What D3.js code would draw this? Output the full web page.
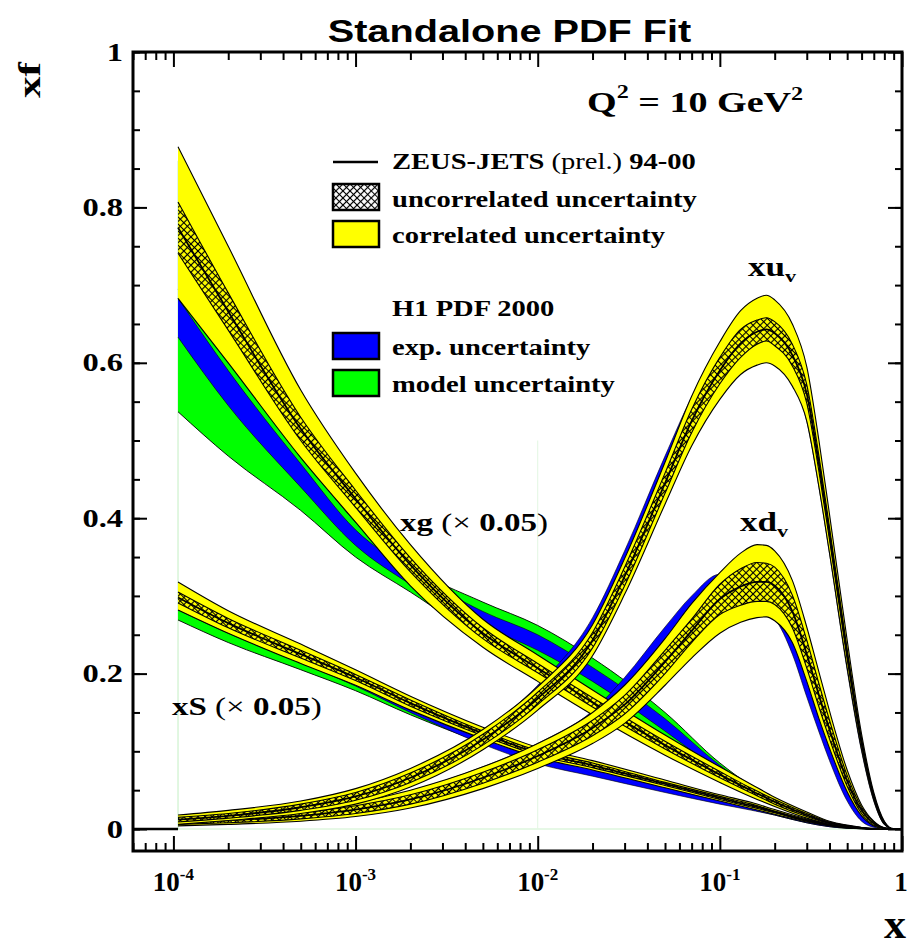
<!DOCTYPE html>
<html><head><meta charset="utf-8">
<script src="https://cdn.jsdelivr.net/npm/d3@7"></script>
<style>body{margin:0;background:#fff}svg{display:block}</style>
</head><body><svg id="c" width="909" height="949"></svg>
<script>
// ---------------- DATA ----------------
const xGrid = [1.06e-4, 2e-4, 5e-4, 1e-3, 2e-3, 5e-3, 0.01, 0.02, 0.05, 0.1, 0.15, 0.2, 0.3, 0.4, 0.5, 0.6, 0.7, 0.8, 1.0];
// xg (x0.05) ZEUS-JETS
const gCorrLo = [0.683, 0.60, 0.478, 0.395, 0.313, 0.234, 0.19, 0.147, 0.095, 0.06, 0.041, 0.029, 0.014, 0.006, 0.003, 0.001, 0, 0, 0];
const gCorrHi = [0.878, 0.75, 0.565, 0.458, 0.366, 0.27, 0.224, 0.179, 0.121, 0.08, 0.057, 0.041, 0.022, 0.01, 0.005, 0.002, 0.0005, 0, 0];
const gUncLo  = [0.741, 0.642, 0.50, 0.414, 0.331, 0.245, 0.201, 0.157, 0.103, 0.066, 0.046, 0.032, 0.016, 0.007, 0.0035, 0.001, 0.0002, 0, 0];
const gUncHi  = [0.807, 0.69, 0.53, 0.436, 0.349, 0.259, 0.213, 0.169, 0.113, 0.074, 0.052, 0.038, 0.02, 0.009, 0.0045, 0.002, 0.0004, 0, 0];
const gCentral= [0.774, 0.666, 0.515, 0.425, 0.34, 0.252, 0.207, 0.163, 0.108, 0.07, 0.049, 0.035, 0.018, 0.008, 0.004, 0.0015, 0.0003, 0, 0];
// xg (x0.05) H1 PDF 2000
const gModLo = [0.537, 0.48, 0.41, 0.35, 0.305, 0.245, 0.215, 0.175, 0.118, 0.072, 0.048, 0.034, 0.016, 0.007, 0.003, 0.001, 0, 0, 0];
const gModHi = [0.695, 0.61, 0.485, 0.395, 0.338, 0.292, 0.262, 0.22, 0.15, 0.085, 0.055, 0.038, 0.019, 0.009, 0.004, 0.001, 0, 0, 0];
const gExpLo = [0.633, 0.545, 0.44, 0.365, 0.315, 0.262, 0.23, 0.19, 0.126, 0.075, 0.05, 0.035, 0.017, 0.008, 0.0035, 0.001, 0, 0, 0];
const gExpHi = [0.683, 0.59, 0.47, 0.385, 0.333, 0.28, 0.25, 0.208, 0.142, 0.082, 0.053, 0.037, 0.018, 0.0085, 0.0038, 0.001, 0, 0, 0];
// xS (x0.05) ZEUS-JETS
const sCorrLo = [0.282, 0.252, 0.213, 0.185, 0.153, 0.116, 0.092, 0.076, 0.053, 0.036, 0.026, 0.019, 0.009, 0.004, 0.0015, 0.0005, 0.0001, 0, 0];
const sCorrHi = [0.318, 0.281, 0.238, 0.205, 0.171, 0.131, 0.105, 0.088, 0.063, 0.044, 0.034, 0.025, 0.013, 0.006, 0.0025, 0.001, 0.0003, 0, 0];
const sUncLo  = [0.291, 0.259, 0.22, 0.191, 0.158, 0.12, 0.095, 0.079, 0.056, 0.038, 0.028, 0.021, 0.01, 0.0045, 0.0018, 0.0007, 0.0002, 0, 0];
const sUncHi  = [0.305, 0.271, 0.23, 0.199, 0.166, 0.126, 0.101, 0.085, 0.06, 0.042, 0.032, 0.023, 0.012, 0.0055, 0.0022, 0.0009, 0.0002, 0, 0];
const sCentral= [0.298, 0.265, 0.225, 0.195, 0.162, 0.123, 0.098, 0.082, 0.058, 0.04, 0.03, 0.022, 0.011, 0.005, 0.002, 0.0008, 0.0002, 0, 0];
// xS (x0.05) H1 PDF 2000
const sModLo = [0.269, 0.24, 0.205, 0.178, 0.147, 0.111, 0.088, 0.071, 0.05, 0.034, 0.025, 0.018, 0.008, 0.003, 0.001, 0.0005, 0.0001, 0, 0];
const sModHi = [0.30, 0.27, 0.23, 0.197, 0.163, 0.124, 0.099, 0.081, 0.058, 0.04, 0.031, 0.023, 0.012, 0.005, 0.002, 0.0008, 0.0002, 0, 0];
const sExpLo = [0.282, 0.252, 0.214, 0.184, 0.15, 0.109, 0.084, 0.068, 0.047, 0.032, 0.024, 0.018, 0.008, 0.003, 0.001, 0.0005, 0.0001, 0, 0];
const sExpHi = [0.297, 0.266, 0.227, 0.195, 0.162, 0.122, 0.097, 0.079, 0.056, 0.039, 0.03, 0.023, 0.012, 0.005, 0.002, 0.0008, 0.0002, 0, 0];

const xVal = [1.06e-4, 2e-4, 5e-4, 1e-3, 2e-3, 5e-3, 0.01, 0.02, 0.03, 0.05, 0.07, 0.1, 0.13, 0.16, 0.18, 0.2, 0.25, 0.3, 0.35, 0.4, 0.5, 0.6, 0.7, 0.8, 0.9, 1.0];
// xu_v ZEUS-JETS
const uCorrLo = [0.006, 0.011, 0.02, 0.032, 0.054, 0.102, 0.153, 0.223, 0.302, 0.418, 0.493, 0.553, 0.585, 0.597, 0.60, 0.596, 0.57, 0.525, 0.44, 0.355, 0.207, 0.102, 0.037, 0.006, 0, 0];
const uCorrHi = [0.018, 0.024, 0.036, 0.052, 0.078, 0.128, 0.183, 0.263, 0.348, 0.472, 0.557, 0.627, 0.667, 0.683, 0.687, 0.681, 0.65, 0.595, 0.50, 0.405, 0.243, 0.122, 0.047, 0.01, 0, 0];
const uUncLo  = [0.009, 0.014, 0.024, 0.037, 0.06, 0.108, 0.16, 0.233, 0.313, 0.432, 0.51, 0.573, 0.607, 0.624, 0.628, 0.622, 0.596, 0.548, 0.46, 0.372, 0.219, 0.108, 0.04, 0.007, 0, 0];
const uUncHi  = [0.015, 0.02, 0.032, 0.047, 0.072, 0.122, 0.176, 0.253, 0.337, 0.458, 0.54, 0.607, 0.643, 0.655, 0.658, 0.653, 0.624, 0.572, 0.48, 0.388, 0.231, 0.116, 0.044, 0.009, 0, 0];
const uCentral= [0.012, 0.017, 0.028, 0.042, 0.066, 0.115, 0.168, 0.243, 0.325, 0.445, 0.525, 0.59, 0.625, 0.64, 0.643, 0.638, 0.61, 0.56, 0.47, 0.38, 0.225, 0.112, 0.042, 0.008, 0, 0];
// xu_v H1 PDF 2000
const uExpLo = [0.008, 0.013, 0.022, 0.035, 0.058, 0.108, 0.16, 0.238, 0.322, 0.445, 0.522, 0.58, 0.61, 0.62, 0.62, 0.615, 0.58, 0.525, 0.44, 0.355, 0.205, 0.1, 0.036, 0.006, 0, 0];
const uExpHi = [0.016, 0.021, 0.033, 0.049, 0.074, 0.126, 0.185, 0.272, 0.358, 0.48, 0.555, 0.612, 0.64, 0.65, 0.65, 0.645, 0.61, 0.555, 0.47, 0.38, 0.225, 0.112, 0.042, 0.008, 0, 0];
// xd_v ZEUS-JETS
const dCorrLo = [0.004, 0.006, 0.01, 0.016, 0.027, 0.052, 0.078, 0.11, 0.136, 0.185, 0.22, 0.252, 0.266, 0.272, 0.273, 0.268, 0.24, 0.19, 0.142, 0.104, 0.048, 0.017, 0.004, 0.0005, 0, 0];
const dCorrHi = [0.012, 0.016, 0.024, 0.034, 0.05, 0.08, 0.11, 0.15, 0.185, 0.245, 0.29, 0.33, 0.355, 0.366, 0.365, 0.358, 0.32, 0.26, 0.202, 0.152, 0.076, 0.031, 0.01, 0.0015, 0, 0];
const dUncLo  = [0.006, 0.008, 0.013, 0.02, 0.032, 0.059, 0.086, 0.12, 0.148, 0.2, 0.24, 0.276, 0.288, 0.293, 0.293, 0.289, 0.259, 0.207, 0.157, 0.116, 0.055, 0.02, 0.005, 0.0008, 0, 0];
const dUncHi  = [0.01, 0.014, 0.021, 0.03, 0.044, 0.073, 0.102, 0.14, 0.172, 0.23, 0.27, 0.315, 0.335, 0.343, 0.342, 0.337, 0.301, 0.243, 0.187, 0.14, 0.069, 0.028, 0.009, 0.0012, 0, 0];
const dCentral= [0.008, 0.011, 0.017, 0.025, 0.038, 0.066, 0.094, 0.13, 0.16, 0.215, 0.255, 0.296, 0.312, 0.318, 0.318, 0.313, 0.28, 0.225, 0.172, 0.128, 0.062, 0.024, 0.007, 0.001, 0, 0];
// xd_v H1 PDF 2000
const dExpLo = [0.005, 0.007, 0.012, 0.018, 0.03, 0.056, 0.084, 0.12, 0.158, 0.222, 0.262, 0.29, 0.29, 0.283, 0.277, 0.27, 0.225, 0.17, 0.125, 0.088, 0.036, 0.01, 0.002, 0, 0, 0];
const dExpHi = [0.011, 0.015, 0.023, 0.033, 0.049, 0.08, 0.11, 0.152, 0.195, 0.26, 0.30, 0.328, 0.327, 0.32, 0.31, 0.30, 0.255, 0.2, 0.15, 0.11, 0.05, 0.018, 0.005, 0.001, 0, 0];

const yTickValues = [0, 0.2, 0.4, 0.6, 0.8, 1];
const yTickLabels = ["0", "0.2", "0.4", "0.6", "0.8", "1"];
const xTickValues = [1e-4, 1e-3, 1e-2, 1e-1, 1];
const xTickBase = ["10", "10", "10", "10", "1"];
const xTickExp = ["-4", "-3", "-2", "-1", ""];

// ---------------- LAYOUT ----------------
const L = 133, R = 902, T = 52, B = 851;
const svg = d3.select("#c");
const x = d3.scaleLog().domain([6e-5, 1]).range([L, R]);
const y = d3.scaleLinear().domain([-0.0283, 1]).range([B, T]);

const SERIF = "'Liberation Serif','Times New Roman',serif";
const SANS = "'Liberation Sans',Arial,sans-serif";
const YELLOW = "#ffff00", BLUE = "#0000ff", GREEN = "#00ff00";

const defs = svg.append("defs");
const pat = defs.append("pattern").attr("id", "hatch").attr("width", 5).attr("height", 5)
  .attr("patternUnits", "userSpaceOnUse").attr("patternTransform", "rotate(45)");
pat.append("path").attr("d", "M2.5,0V5M0,2.5H5").attr("stroke", "#000").attr("stroke-width", 1.2);
defs.append("clipPath").attr("id", "plotclip").append("rect")
  .attr("x", L).attr("y", T).attr("width", R - L).attr("height", B - T);

const plot = svg.append("g").attr("clip-path", "url(#plotclip)");

// faint guide lines
plot.append("line").attr("x1", x(xGrid[0])).attr("x2", x(1)).attr("y1", y(0)).attr("y2", y(0))
  .attr("stroke", "#cdf2cd").attr("stroke-width", 1.2);
plot.append("line").attr("x1", x(xGrid[0])).attr("x2", x(xGrid[0])).attr("y1", y(0)).attr("y2", y(0.86))
  .attr("stroke", "#cdf2cd").attr("stroke-width", 1.2);
plot.append("line").attr("x1", x(0.01)).attr("x2", x(0.01)).attr("y1", y(0)).attr("y2", y(0.5))
  .attr("stroke", "#e3f6e3").attr("stroke-width", 1);
plot.append("line").attr("x1", x(6e-5)).attr("x2", x(xGrid[0])).attr("y1", y(0)).attr("y2", y(0))
  .attr("stroke", "#000").attr("stroke-width", 2.5);

function areaPath(xs, lo, hi) {
  return d3.area().x((d, i) => x(xs[i])).y0((d, i) => y(lo[i])).y1((d, i) => y(hi[i]))
    .curve(d3.curveMonotoneX)(xs);
}
function linePath(xs, v) {
  return d3.line().x((d, i) => x(xs[i])).y((d, i) => y(v[i])).curve(d3.curveMonotoneX)(xs);
}
function band(xs, lo, hi, fill, sw) {
  plot.append("path").attr("d", areaPath(xs, lo, hi)).attr("fill", fill).attr("stroke", "none");
  [lo, hi].forEach(v => plot.append("path").attr("d", linePath(xs, v))
    .attr("fill", "none").attr("stroke", "#000").attr("stroke-width", sw));
}
function line(xs, v, sw) {
  plot.append("path").attr("d", linePath(xs, v)).attr("fill", "none").attr("stroke", "#000").attr("stroke-width", sw);
}

// H1 bands
band(xGrid, gModLo, gModHi, GREEN, 0.9);
band(xGrid, sModLo, sModHi, GREEN, 0.9);
band(xGrid, gExpLo, gExpHi, BLUE, 0.6);
band(xGrid, sExpLo, sExpHi, BLUE, 0.6);
band(xVal, uExpLo, uExpHi, BLUE, 0.6);
band(xVal, dExpLo, dExpHi, BLUE, 0.6);

// ZEUS bands
function zeus(xs, cLo, cHi, uLo, uHi, cen) {
  band(xs, cLo, cHi, YELLOW, 1.1);
  plot.append("path").attr("d", areaPath(xs, uLo, uHi)).attr("fill", "url(#hatch)");
  [uLo, uHi].forEach(v => line(xs, v, 1.1));
  line(xs, cen, 1.8);
}
zeus(xGrid, gCorrLo, gCorrHi, gUncLo, gUncHi, gCentral);
zeus(xGrid, sCorrLo, sCorrHi, sUncLo, sUncHi, sCentral);
zeus(xVal, dCorrLo, dCorrHi, dUncLo, dUncHi, dCentral);
zeus(xVal, uCorrLo, uCorrHi, uUncLo, uUncHi, uCentral);

// ---------------- AXES ----------------
function ticks(axisFn, scale, values, size, tr) {
  const g = svg.append("g").attr("transform", tr)
    .call(axisFn(scale).tickValues(values).tickSize(size).tickFormat(""));
  g.select(".domain").remove();
  g.selectAll("line").attr("stroke", "#000").attr("stroke-width", 2);
}
const yMinor = d3.range(0, 1.0001, 0.05);
const xMinor = [];
[-5, -4, -3, -2, -1].forEach(k => [2, 3, 4, 5, 6, 7, 8, 9].forEach(m => {
  const v = m * Math.pow(10, k); if (v > 6e-5 && v < 1) xMinor.push(v);
}));
ticks(d3.axisLeft, y, yMinor, -7, `translate(${L},0)`);
ticks(d3.axisLeft, y, yTickValues, -14, `translate(${L},0)`);
ticks(d3.axisRight, y, yMinor, -7, `translate(${R},0)`);
ticks(d3.axisRight, y, yTickValues, -14, `translate(${R},0)`);
ticks(d3.axisBottom, x, xMinor, -8, `translate(0,${B})`);
ticks(d3.axisBottom, x, xTickValues, -15, `translate(0,${B})`);
ticks(d3.axisTop, x, xMinor, -8, `translate(0,${T})`);
ticks(d3.axisTop, x, xTickValues, -15, `translate(0,${T})`);
svg.append("rect").attr("x", L).attr("y", T).attr("width", R - L).attr("height", B - T)
  .attr("fill", "none").attr("stroke", "#000").attr("stroke-width", 3);

// ---------------- TEXT ----------------
function txt(px, py, size, sx, anchor, family, weight, extra) {
  return svg.append("text").attr("transform", `translate(${px},${py}) ${extra || ""} scale(${sx},1)`)
    .attr("font-family", family).attr("font-size", size).attr("font-weight", weight)
    .attr("text-anchor", anchor).attr("fill", "#000");
}
yTickValues.forEach((v, i) => {
  txt(123, y(v) + 8.5, 25, 1.3, "end", SERIF, "bold").text(yTickLabels[i]);
});
xTickValues.forEach((v, i) => {
  const t = txt(x(v) - (xTickExp[i] ? 0 : 1), 891, 27, 1.0, "middle", SERIF, "bold");
  t.append("tspan").text(xTickBase[i]);
  if (xTickExp[i]) t.append("tspan").attr("font-size", 17).attr("dy", -11).text(xTickExp[i]);
});

// title
txt(509.5, 42, 31, 1.28, "middle", SANS, "bold").text("Standalone PDF Fit");
// axis titles
txt(40, 98, 32, 1.35, "start", SERIF, "bold", "rotate(-90)").text("xf");
txt(906, 938, 40, 1.1, "end", SERIF, "bold").text("x");

// Q^2
const q = txt(587, 112, 30, 1.27, "start", SERIF, "bold");
q.append("tspan").text("Q");
q.append("tspan").attr("font-size", 19).attr("dy", -14).text("2");
q.append("tspan").attr("dy", 14).text(" = 10 GeV");
q.append("tspan").attr("font-size", 19).attr("dy", -12).text("2");

// legend
const LX = 333, LW = 46, TX = 392;
svg.append("line").attr("x1", LX).attr("x2", LX + 45).attr("y1", 162).attr("y2", 162)
  .attr("stroke", "#000").attr("stroke-width", 2.5);
const z = txt(TX, 169, 22.5, 1.27, "start", SERIF, "bold");
z.append("tspan").text("ZEUS-JETS ");
z.append("tspan").attr("font-weight", "normal").text("(prel.)");
z.append("tspan").text(" 94-00");
const sw = [
  {y0: 184, fill: "#fff", hatch: true, label: "uncorrelated uncertainty", by: 207},
  {y0: 221, fill: YELLOW, label: "correlated uncertainty", by: 243},
  {y0: 333, fill: BLUE, label: "exp. uncertainty", by: 355},
  {y0: 370, fill: GREEN, label: "model uncertainty", by: 392}
];
sw.forEach(s => {
  svg.append("rect").attr("x", LX).attr("y", s.y0).attr("width", LW).attr("height", 26).attr("fill", s.fill);
  if (s.hatch) svg.append("rect").attr("x", LX).attr("y", s.y0).attr("width", LW).attr("height", 26).attr("fill", "url(#hatch)");
  svg.append("rect").attr("x", LX).attr("y", s.y0).attr("width", LW).attr("height", 26)
    .attr("fill", "none").attr("stroke", "#000").attr("stroke-width", 2.5);
  txt(TX, s.by, 22.5, 1.27, "start", SERIF, "bold").text(s.label);
});
txt(TX, 316, 22.5, 1.27, "start", SERIF, "bold").text("H1 PDF 2000");

// curve labels
function sub(px, py, main, s) {
  const t = txt(px, py, 27, 1.3, "start", SERIF, "bold");
  t.append("tspan").text(main);
  t.append("tspan").attr("font-size", 17).attr("dy", 6).text(s);
}
sub(748, 276, "xu", "v");
sub(740, 531, "xd", "v");
function scaled(px, py, name) {
  const t = txt(px, py, 26, 1.27, "start", SERIF, "bold");
  t.append("tspan").text(name + " ");
  t.append("tspan").attr("font-weight", "normal").text("(\u00d7 ");
  t.append("tspan").text("0.05");
  t.append("tspan").attr("font-weight", "normal").text(")");
}
scaled(400, 531, "xg");
scaled(172, 715, "xS");
</script></body></html>
